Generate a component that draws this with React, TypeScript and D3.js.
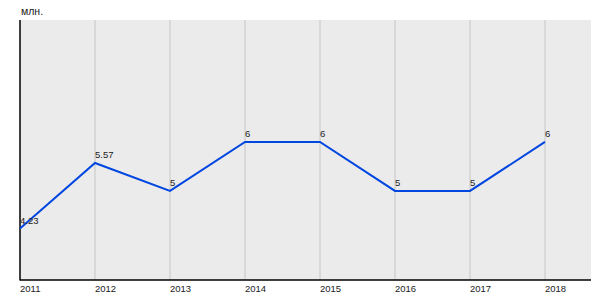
import React from "react";
import * as d3 from "d3";

const years = [2011, 2012, 2013, 2014, 2015, 2016, 2017, 2018];
const values = [4.23, 5.57, 5, 6, 6, 5, 5, 6];
const labels = ["4.23", "5.57", "5", "6", "6", "5", "5", "6"];
const unit = "млн.";

export default function App() {
  const W = 600, H = 300;
  const left = 20, right = 591, top = 20, bottom = 280;
  const x = d3.scaleLinear().domain([2011, 2018]).range([left, left + 75 * 7]);
  const y = d3.scaleLinear().domain([3.18, 8.49]).range([bottom, top]);
  const line = d3.line<number>().x((_, i) => x(years[i])).y((d) => y(d));
  return (
    <svg width={W} height={H} style={{ position: "absolute", left: 0, top: 0, fontFamily: "Liberation Sans, Arial, sans-serif" }}>
      <rect x={left} y={top} width={right - left} height={bottom - top} fill="#ebebeb" />
      {years.slice(1).map((yr) => (
        <line key={yr} x1={x(yr)} x2={x(yr)} y1={top} y2={bottom} stroke="#c6c6c6" strokeWidth={1} />
      ))}
      <line x1={left} x2={left} y1={top} y2={bottom + 0.5} stroke="#000" strokeWidth={1.5} />
      <line x1={left} x2={right} y1={bottom} y2={bottom} stroke="#000" strokeWidth={1.5} />
      {years.map((yr) => (
        <text key={yr} x={x(yr)} y={291.5} fontSize={9.5} fill="#222">{yr}</text>
      ))}
      <text x={21} y={15} fontSize={10.5} fill="#222">{unit}</text>
      <path d={line(values) || ""} fill="none" stroke="#0046e0" strokeWidth={2} />
      {values.map((v, i) => (
        <text key={i} x={x(years[i])} y={y(v) - 5} fontSize={9.5} fill="#222">{labels[i]}</text>
      ))}
    </svg>
  );
}
